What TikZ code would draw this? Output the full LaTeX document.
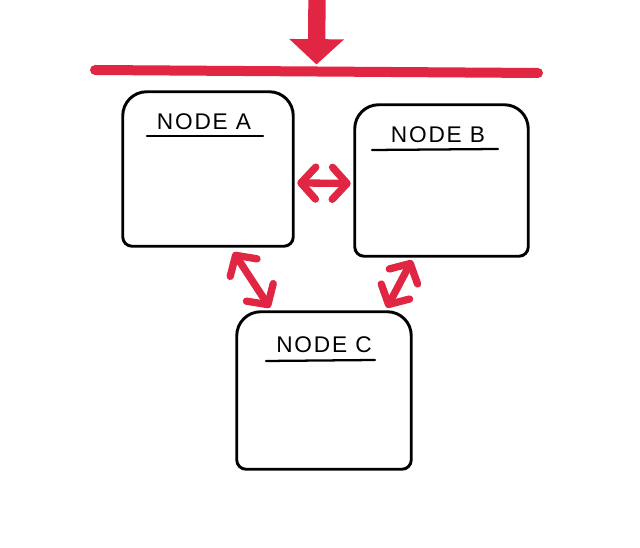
\documentclass[tikz,border=0pt]{standalone}
\usepackage{fontspec}
\setmainfont{Liberation Sans}[LetterSpace=8]
\usetikzlibrary{arrows.meta,calc}
\definecolor{marker}{RGB}{224,38,66}
\tikzset{
  boxline/.style={line width=2.2pt, black, line cap=round, line join=round},
  anchorbox/.style={draw=none, inner sep=0pt, rectangle},
  titletext/.style={font=\fontsize{17}{19}\selectfont, inner sep=0pt, anchor=base},
  underline/.style={line width=1.7pt, black, line cap=round},
  redlink/.style={line width=5.5pt, marker, line cap=round,
    {Straight Barb[round, length=11pt, width=24pt, line width=5.5pt]}-{Straight Barb[round, length=11pt, width=24pt, line width=5.5pt]}},
  redbar/.style={line width=7.5pt, marker, line cap=round},
  bigarrow/.style={line width=13pt, marker, -{Triangle[length=19pt, width=40pt]}}
}
\newcommand\sketchbox[1]{%
  \draw[boxline] (#1.south) [rounded corners=7pt] -- (#1.south west) [rounded corners=18pt] -- (#1.north west) -- (#1.north east) [rounded corners=7pt] -- (#1.south east) -- cycle;}
\begin{document}
\begin{tikzpicture}[x=0.75pt, y=-0.75pt]
\fill[white] (0,0) rectangle (640,548);
\useasboundingbox (0,0) rectangle (640,548);

% boxes
\node[anchorbox, minimum width=127.5pt, minimum height=115.5pt] (A) at (208,169) {};
\node[anchorbox, minimum width=129.75pt, minimum height=113.25pt] (B) at (441.5,180.5) {};
\node[anchorbox, minimum width=130.5pt, minimum height=117.75pt] (C) at (324,390.5) {};
\sketchbox{A}
\sketchbox{B}
\sketchbox{C}

% titles
\node[titletext] (At) at (204,130) {NODE A};
\draw[underline] (147,136) -- (263,136);
\node[titletext] (Bt) at (438,143) {NODE B};
\draw[underline] (372,150) -- (498,149);
\node[titletext] (Ct) at (324,353) {NODE C};
\draw[underline] (266,361) -- (375,360);

% red bar and arrow
\coordinate (barL) at (95,70);
\coordinate (barR) at (538,73);
\coordinate (top) at (317,-2);
\draw[redbar] (barL) -- (barR);
\draw[bigarrow] (top) -- ($(barL)!0.5!(barR)+(0,-7)$);

% links
\draw[redlink] ($(A.south east)!0.41!(A.north east)+(4,0)$) -- ($(B.south west)!0.48!(B.north west)+(-4,0)$);
\draw[redlink] ($(A.south west)!0.65!(A.south east)+(0,6)$) -- ($(C.north west)!0.19!(C.north east)+(0,-4)$);
\draw[redlink] ($(B.south west)!0.33!(B.south east)+(0,4)$) -- ($(C.north west)!0.86!(C.north east)+(0,-4)$);
\end{tikzpicture}
\end{document}
